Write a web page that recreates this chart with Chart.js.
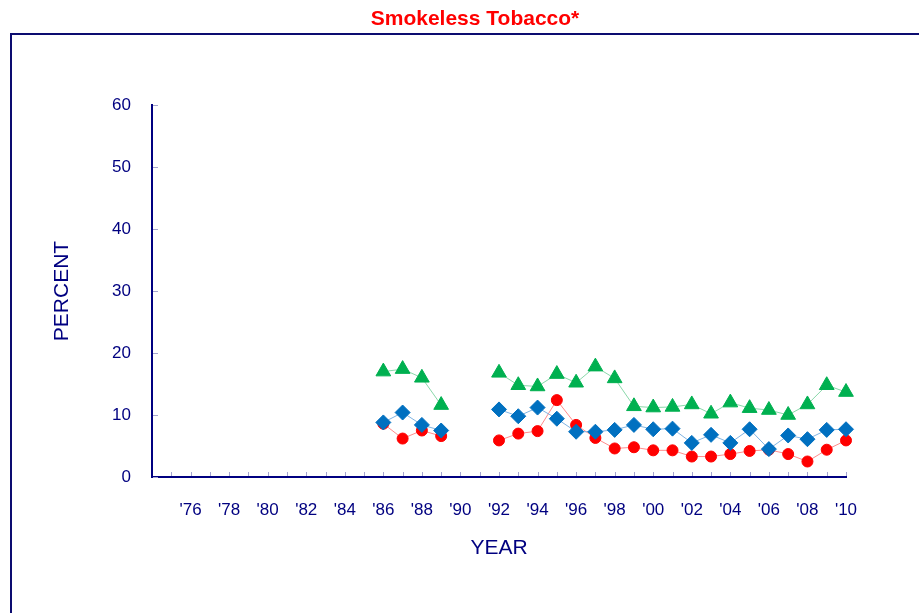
<!DOCTYPE html>
<html>
<head>
<meta charset="utf-8">
<title>Smokeless Tobacco</title>
<script src="https://cdn.jsdelivr.net/npm/chart.js@4/dist/chart.umd.min.js"></script>
<style>
  html, body { margin: 0; padding: 0; background: #fff; }
  #wrap { position: relative; width: 919px; height: 613px; }
</style>
</head>
<body>
<div id="wrap"><canvas id="chart"></canvas></div>
<script>
// Survey years (1990 and 1991 have no data, left as gaps)
const years = [1986, 1987, 1988, 1989, 1990, 1991, 1992, 1993, 1994, 1995, 1996, 1997, 1998,
  1999, 2000, 2001, 2002, 2003, 2004, 2005, 2006, 2007, 2008, 2009, 2010];

// Percent values per series
const greenVals = [17.0, 17.4, 16.0, 11.6, null, null, 16.8, 14.8, 14.6, 16.6, 15.2, 17.8, 15.9,
  11.4, 11.2, 11.3, 11.7, 10.2, 12.0, 11.1, 10.8, 10.0, 11.7, 14.8, 13.7];
const blueVals = [8.8, 10.4, 8.4, 7.5, null, null, 10.9, 9.8, 11.2, 9.4, 7.3, 7.3, 7.6,
  8.4, 7.7, 7.8, 5.5, 6.8, 5.5, 7.7, 4.5, 6.7, 6.1, 7.6, 7.7];
const redVals = [8.6, 6.2, 7.5, 6.6, null, null, 5.9, 7.0, 7.4, 12.4, 8.4, 6.3, 4.6,
  4.8, 4.3, 4.3, 3.3, 3.3, 3.7, 4.2, 4.4, 3.7, 2.5, 4.4, 5.9];

// Axis range and labels
const xMin = 1974;
const xMax = 2010;
const xLabelYears = [1976, 1978, 1980, 1982, 1984, 1986, 1988, 1990, 1992, 1994, 1996, 1998,
  2000, 2002, 2004, 2006, 2008, 2010];
const xLabels = ["'76", "'78", "'80", "'82", "'84", "'86", "'88", "'90", "'92", "'94", "'96", "'98",
  "'00", "'02", "'04", "'06", "'08", "'10"];
const yTicks = [0, 10, 20, 30, 40, 50, 60];

const TITLE = 'Smokeless Tobacco*';
const NAVY = '#000080';
const FONT = "'Liberation Sans', Arial, sans-serif";

function points(vals) {
  return years.map((x, i) => ({ x: x, y: vals[i] }));
}

// white background, frame open to the right and bottom, and the heading
const framePlugin = {
  id: 'frame',
  beforeDraw(chart) {
    const ctx = chart.ctx;
    ctx.save();
    ctx.fillStyle = '#fff';
    ctx.fillRect(0, 0, chart.width, chart.height);
    ctx.strokeStyle = '#0c0c70';
    ctx.lineWidth = 2;
    ctx.strokeRect(11, 34, chart.width + 20, chart.height + 20);
    ctx.fillStyle = '#ff0000';
    ctx.font = 'bold 21px ' + FONT;
    ctx.textAlign = 'center';
    ctx.textBaseline = 'middle';
    ctx.fillText(TITLE, 475, 19);
    ctx.restore();
  }
};

// short tick marks pointing into the plot
const innerTicks = {
  id: 'innerTicks',
  afterDraw(chart) {
    const ctx = chart.ctx;
    const xs = chart.scales.x, ys = chart.scales.y;
    const area = chart.chartArea;
    ctx.save();
    ctx.strokeStyle = '#a4a4d0';
    ctx.lineWidth = 1;
    ctx.beginPath();
    xs.ticks.forEach(t => {
      const px = Math.round(xs.getPixelForValue(t.value)) + 0.5;
      if (px <= area.left + 2) return;
      ctx.moveTo(px, area.bottom - 1);
      ctx.lineTo(px, area.bottom - 5);
    });
    yTicks.forEach(v => {
      const py = Math.round(ys.getPixelForValue(v)) + 0.5;
      ctx.moveTo(area.left + 1, py);
      ctx.lineTo(area.left + 6, py);
    });
    ctx.stroke();
    ctx.restore();
  }
};

new Chart(document.getElementById('chart'), {
  type: 'line',
  data: {
    datasets: [
      {
        label: 'Green',
        data: points(greenVals),
        borderColor: '#8ad8aa',
        borderWidth: 1,
        backgroundColor: '#00b050',
        pointBackgroundColor: '#00b050',
        pointBorderColor: '#00b050',
        pointStyle: 'triangle',
        pointRadius: 8.5,
        spanGaps: false,
        clip: false
      },
      {
        label: 'Blue',
        data: points(blueVals),
        borderColor: '#80b4e2',
        borderWidth: 1,
        backgroundColor: '#0070c0',
        pointBackgroundColor: '#0070c0',
        pointBorderColor: '#0070c0',
        pointStyle: 'rectRot',
        pointRadius: 7.5,
        spanGaps: false,
        clip: false
      },
      {
        label: 'Red',
        data: points(redVals),
        borderColor: '#ff8c8c',
        borderWidth: 1,
        backgroundColor: '#ff0000',
        pointBackgroundColor: '#ff0000',
        pointBorderColor: '#ff0000',
        pointStyle: 'circle',
        pointRadius: 5.5,
        spanGaps: false,
        clip: false
      }
    ]
  },
  options: {
    responsive: true,
    maintainAspectRatio: false,
    animation: false,
    devicePixelRatio: 1,
    layout: { padding: { top: 105, left: 0, right: 73, bottom: 0 } },
    plugins: {
      legend: { display: false },
      tooltip: { enabled: false },
      title: { display: false }
    },
    scales: {
      x: {
        type: 'linear',
        min: xMin,
        max: xMax,
        offset: false,
        afterFit(scale) { scale.height = 136; },
        grid: { display: false, drawTicks: false },
        border: { display: true, color: NAVY, width: 2 },
        ticks: {
          stepSize: 1,
          autoSkip: false,
          maxRotation: 0,
          padding: 23,
          color: NAVY,
          font: { family: FONT, size: 17 },
          callback(value) {
            const i = xLabelYears.indexOf(value);
            return i >= 0 ? xLabels[i] : '';
          }
        },
        title: {
          display: true,
          text: 'YEAR',
          color: NAVY,
          font: { family: FONT, size: 21 },
          padding: { top: 0, bottom: 52 }
        }
      },
      y: {
        min: 0,
        max: 60,
        afterFit(scale) { scale.width = 152; },
        grid: { display: false, drawTicks: false },
        border: { display: true, color: NAVY, width: 2 },
        ticks: {
          stepSize: 10,
          padding: 21,
          color: NAVY,
          font: { family: FONT, size: 17 }
        },
        title: {
          display: true,
          text: 'PERCENT',
          color: NAVY,
          font: { family: FONT, size: 21 },
          padding: { top: 50, bottom: 0 }
        }
      }
    }
  },
  plugins: [framePlugin, innerTicks]
});
</script>
</body>
</html>
